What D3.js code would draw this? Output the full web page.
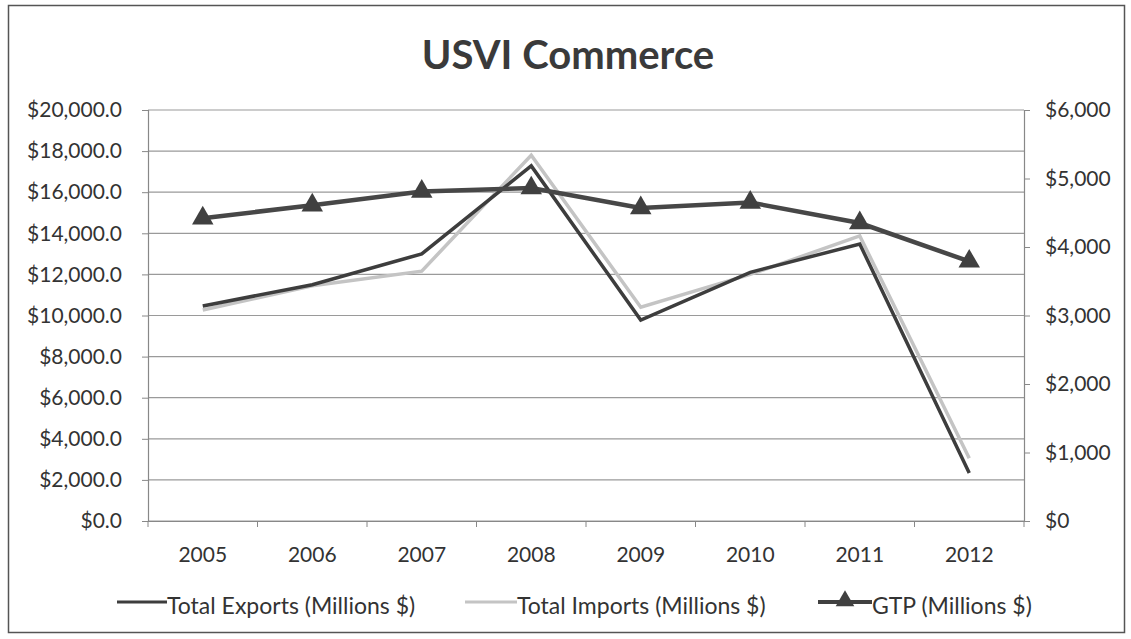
<!DOCTYPE html>
<html><head><meta charset="utf-8">
<script src="https://cdn.jsdelivr.net/npm/d3@7"></script>
<style>body{margin:0;background:#fff;}svg{display:block;font-family:Lato,"Open Sans",sans-serif;}</style>
</head><body>
<svg id="c" width="1131" height="639"></svg>
<script>
const years = ["2005","2006","2007","2008","2009","2010","2011","2012"];
const exportsVals = [10460, 11500, 13000, 17280, 9780, 12100, 13480, 2340];
const importsVals = [10270, 11450, 12160, 17800, 10400, 12000, 13870, 3050];
const gtpVals = [4420, 4610, 4810, 4860, 4570, 4650, 4350, 3790];
const leftTicks = [0,2000,4000,6000,8000,10000,12000,14000,16000,18000,20000];
const rightTicks = [0,1000,2000,3000,4000,5000,6000];
const seriesNames = ["Total Exports (Millions $)","Total Imports (Millions $)","GTP (Millions $)"];

const svg = d3.select("#c");
svg.append("rect").attr("x",8.5).attr("y",5.5).attr("width",1116).attr("height",627)
  .attr("fill","#fff").attr("stroke","#555").attr("stroke-width",1.5);

const L=148, R=1024, T=110, B=521;
const x = d3.scaleBand().domain(years).range([L,R]);
const yL = d3.scaleLinear().domain([0,20000]).range([B,T]);
const yR = d3.scaleLinear().domain([0,6000]).range([B,T]);
const cx = d => x(d)+x.bandwidth()/2;

// gridlines
svg.append("g").selectAll("line").data(leftTicks).join("line")
  .attr("x1",L).attr("x2",R).attr("y1",d=>yL(d)).attr("y2",d=>yL(d))
  .attr("stroke","#9a9a9a").attr("stroke-width",1.2);

const FS = 21;
// left axis
const fmtL = d => "$" + d3.format(",.1f")(d);
const gL = svg.append("g").attr("transform",`translate(${L},0)`)
  .call(d3.axisLeft(yL).tickValues(leftTicks).tickFormat(fmtL).tickSize(6).tickPadding(20));
// right axis
const fmtR = d => "$" + d3.format(",")(d);
const gR = svg.append("g").attr("transform",`translate(${R},0)`)
  .call(d3.axisRight(yR).tickValues(rightTicks).tickFormat(fmtR).tickSize(6).tickPadding(15));
// x axis
const gX = svg.append("g").attr("transform",`translate(0,${B})`)
  .call(d3.axisBottom(x).tickSize(0).tickPadding(26));
gX.append("g").selectAll("line").data(d3.range(years.length+1)).join("line")
  .attr("x1",i=>L+i*x.step()).attr("x2",i=>L+i*x.step()).attr("y1",0).attr("y2",6)
  .attr("stroke","#888");
[gL,gR,gX].forEach(g=>{
  g.selectAll(".domain").attr("stroke","#888").attr("stroke-width",1.2);
  g.selectAll(".tick line").attr("stroke","#888");
  g.selectAll("text").attr("font-size",FS).attr("fill","#333").attr("font-family","Lato,'Open Sans',sans-serif");
});

// lines
const lineL = d3.line().x((d,i)=>cx(years[i])).y(d=>yL(d));
const lineR = d3.line().x((d,i)=>cx(years[i])).y(d=>yR(d));
svg.append("path").datum(importsVals).attr("d",lineL).attr("fill","none")
  .attr("stroke","#c4c4c4").attr("stroke-width",3.5).attr("stroke-linejoin","miter");
svg.append("path").datum(exportsVals).attr("d",lineL).attr("fill","none")
  .attr("stroke","#3d3d3d").attr("stroke-width",3.5).attr("stroke-linejoin","miter");
svg.append("path").datum(gtpVals).attr("d",lineR).attr("fill","none")
  .attr("stroke","#474747").attr("stroke-width",4.5);
const tri = d3.symbol().type(d3.symbolTriangle).size(200);
svg.append("g").selectAll("path").data(gtpVals).join("path")
  .attr("d",tri).attr("transform",(d,i)=>`translate(${cx(years[i])},${yR(d)})`)
  .attr("fill","#404040");

// title
svg.append("text").attr("x",568).attr("y",69).attr("text-anchor","middle")
  .attr("font-size",40).attr("font-weight","bold").attr("fill","#3a3a3a").text("USVI Commerce");

// legend
const lg = svg.append("g").attr("font-size",23).attr("fill","#333");
const items = [
  {x:117, len:50, name:seriesNames[0], color:"#3d3d3d", w:3, m:false},
  {x:465, len:52, name:seriesNames[1], color:"#c4c4c4", w:3, m:false},
  {x:818, len:54, name:seriesNames[2], color:"#404040", w:4, m:true}
];
items.forEach(it=>{
  lg.append("line").attr("x1",it.x).attr("x2",it.x+it.len).attr("y1",602).attr("y2",602)
    .attr("stroke",it.color).attr("stroke-width",it.w);
  if(it.m) lg.append("path").attr("d",d3.symbol().type(d3.symbolTriangle).size(150)())
    .attr("transform",`translate(${it.x+it.len/2},601)`).attr("fill",it.color);
  lg.append("text").attr("x",it.x+it.len).attr("y",614).attr("fill","#333").text(it.name);
});
</script>
</body></html>
